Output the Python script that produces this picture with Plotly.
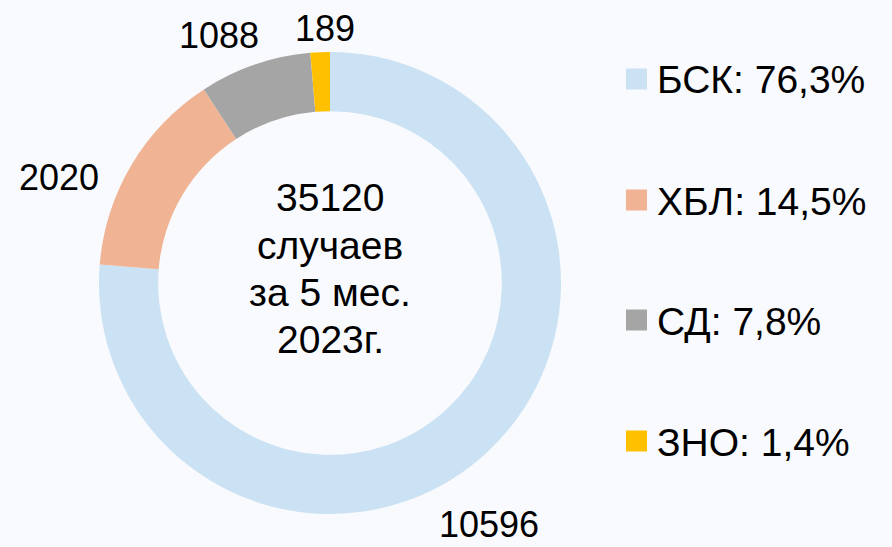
import plotly.graph_objects as go

labels = ["БСК", "ХБЛ", "СД", "ЗНО"]
values = [10596, 2020, 1088, 189]
colors = ["#CAE2F4", "#F0B394", "#A5A5A5", "#FFC000"]
center_lines = ["35120", "случаев", "за 5 мес.", "2023г."]

W, H = 892, 547
BG = "#F9FAFD"
FONT = "Liberation Sans, Arial, sans-serif"

# layout helpers (pixel positions, from top-left)
CX, CY, R = 330, 283, 231
value_label_pos = [(489, 524), (59, 177), (219, 36), (325, 28)]
legend_rows = [79, 200, 320, 441]

def px(x):
    return x / W

def py(y):
    return 1 - y / H

total = sum(values)
pcts = [v / total * 100 for v in values]

fig = go.Figure()
fig.add_trace(go.Pie(
    labels=labels,
    values=values,
    marker=dict(colors=colors, line=dict(width=0)),
    hole=0.744,
    sort=False,
    direction="clockwise",
    rotation=0,
    textinfo="none",
    showlegend=False,
    domain=dict(x=[px(CX - R), px(CX + R)], y=[py(CY + R), py(CY - R)]),
))

# value labels
for v, (lx, ly) in zip(values, value_label_pos):
    fig.add_annotation(
        text=str(v), x=px(lx), y=py(ly), xref="paper", yref="paper",
        xanchor="center", yanchor="middle", showarrow=False, borderpad=0,
        font=dict(size=36, color="#000000", family=FONT),
    )

# center text, one line each for exact spacing
for i, line in enumerate(center_lines):
    fig.add_annotation(
        text=line, x=px(CX), y=py(198 + i * 47.2), xref="paper", yref="paper",
        xanchor="center", yanchor="middle", showarrow=False,
        font=dict(size=39, color="#000000", family=FONT),
    )

# legend (manual, large spacing)
for lab, pct, col, yy in zip(labels, pcts, colors, legend_rows):
    fig.add_shape(type="rect", xref="paper", yref="paper",
                  x0=px(626), x1=px(647), y0=py(yy - 10.5), y1=py(yy + 10.5),
                  fillcolor=col, line=dict(width=0))
    fig.add_annotation(
        text=f"{lab}: {pct:.1f}%".replace(".", ","),
        x=px(655), y=py(yy + 1), xref="paper", yref="paper",
        xanchor="left", yanchor="middle", showarrow=False,
        font=dict(size=39, color="#000000", family=FONT),
    )

fig.update_layout(
    width=W, height=H,
    margin=dict(l=0, r=0, t=0, b=0),
    paper_bgcolor=BG, plot_bgcolor=BG,
)

fig.write_html(
    "out.html",
    config={"displayModeBar": False},
    post_script="document.body.style.margin='0';document.body.style.background='%s';" % BG,
)
